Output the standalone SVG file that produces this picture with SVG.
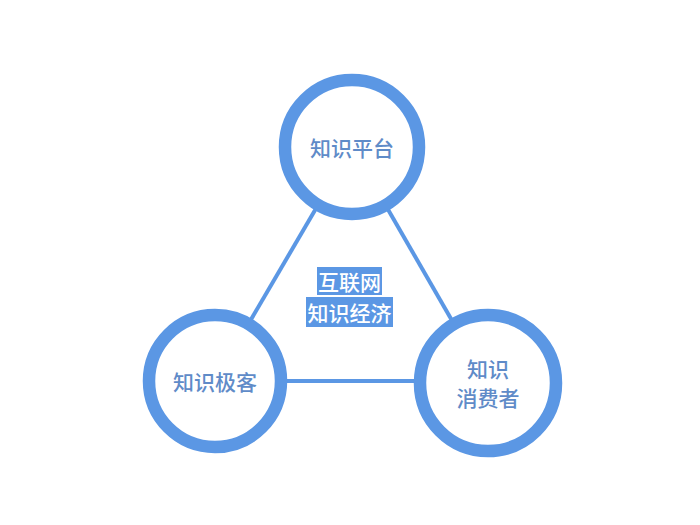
<svg xmlns="http://www.w3.org/2000/svg" width="700" height="525" viewBox="0 0 700 525">
<style>
.ring{fill:#fff;stroke:#5b97e4;stroke-width:12.5}
.lbl{font-family:"Noto Sans CJK SC","Noto Sans",sans-serif;font-size:21px;font-weight:500;fill:#5f8bc8;text-anchor:middle;dominant-baseline:central}
.hl{fill:#5b97e4}
.ct{font-family:"Noto Sans CJK SC","Noto Sans",sans-serif;font-size:21px;font-weight:500;fill:#fff;text-anchor:middle;dominant-baseline:central}
.edge{stroke:#5b97e4;stroke-width:4;fill:none}
</style>
<rect width="700" height="525" fill="#fff"/>
<g id="connectors">
<line class="edge" x1="352" y1="147" x2="215" y2="381"/>
<line class="edge" x1="352" y1="147" x2="488" y2="383"/>
<line class="edge" x1="215" y1="381" x2="488" y2="381"/>
</g>
<g id="center">
<rect class="hl" x="317" y="267" width="65" height="28"/>
<rect class="hl" x="306" y="297" width="87" height="30"/>
<text class="ct" x="349.5" y="281">互联网</text>
<text class="ct" x="349.5" y="312">知识经济</text>
</g>
<g id="node-platform">
<circle class="ring" cx="352" cy="147" r="67"/>
<text class="lbl" x="352" y="147">知识平台</text>
</g>
<g id="node-geek">
<circle class="ring" cx="215" cy="381" r="66"/>
<text class="lbl" x="215" y="381">知识极客</text>
</g>
<g id="node-consumer">
<circle class="ring" cx="488" cy="383" r="68"/>
<text class="lbl" x="488" y="368">知识</text>
<text class="lbl" x="488" y="397">消费者</text>
</g>
</svg>
